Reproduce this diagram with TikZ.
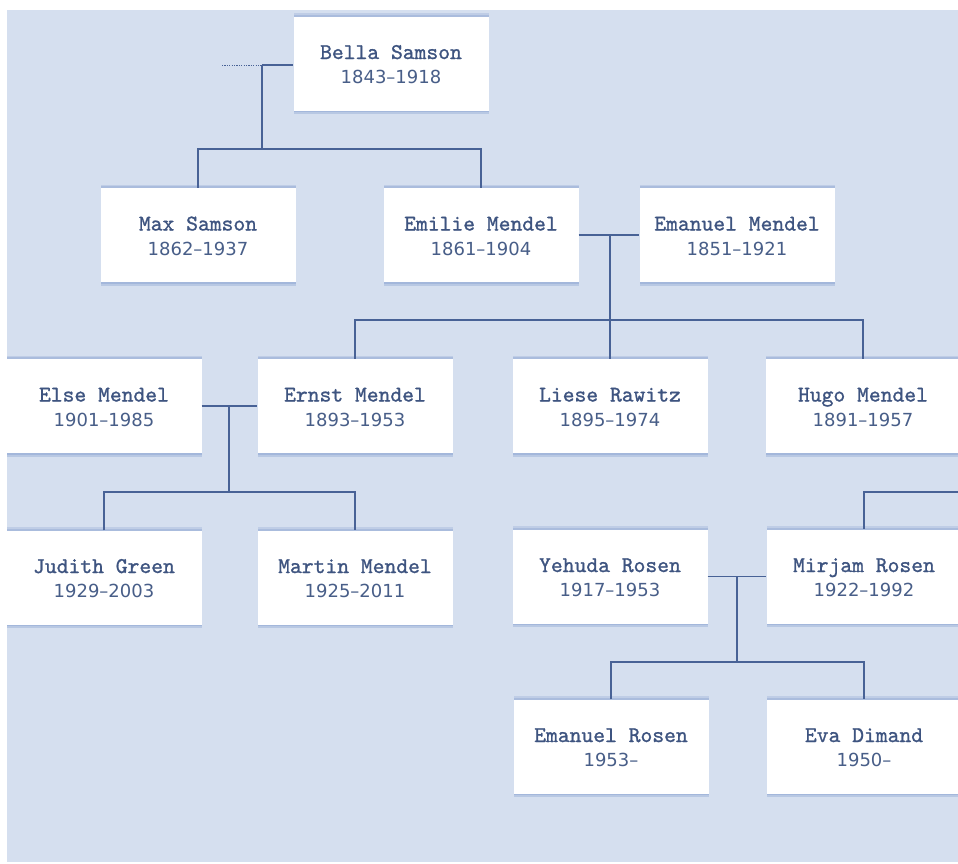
\documentclass[tikz,border=0pt]{standalone}
\usepackage{fontspec}
\usetikzlibrary{shadows,calc}
\newfontfamily\namefont{lmmono10-regular.otf}[FakeBold=1.1]
\newfontfamily\yearfont{DejaVu Sans}
\definecolor{bgc}{RGB}{213,223,239}
\definecolor{linec}{RGB}{72,98,150}
\definecolor{textc}{RGB}{62,84,128}
\definecolor{yearc}{RGB}{72,94,136}
\definecolor{shadowc}{RGB}{150,172,214}
\tikzset{
  pbox/.style={fill=white, draw=none, inner sep=0pt, minimum width=195pt, minimum height=94pt,
    drop shadow={shadow xshift=0pt, shadow yshift=-3.5pt, fill=shadowc, opacity=0.45},
    drop shadow={shadow xshift=0pt, shadow yshift=-1.8pt, fill=shadowc, opacity=0.6},
    drop shadow={shadow xshift=0pt, shadow yshift=3.5pt, fill=shadowc, opacity=0.35},
    drop shadow={shadow xshift=0pt, shadow yshift=1.8pt, fill=shadowc, opacity=0.5}},
  nametext/.style={anchor=base, inner sep=0pt, text=textc, font=\namefont\fontsize{22.5}{24}\selectfont},
  yeartext/.style={anchor=base, inner sep=0pt, text=yearc, font=\yearfont\fontsize{18}{20}\selectfont},
  link/.style={draw=linec, line width=1.2pt},
  dashlink/.style={draw=linec, line width=0.9pt, dash pattern=on 1.2pt off 1.2pt}
}
\newcommand\person[5]{%
  \node[pbox] (#1) at (#2,#3) {};
  \node[nametext] (#1n) at ([yshift=4.5pt]#1.center) {#4};
  \node[yeartext] (#1y) at ([yshift=-20pt]#1.center) {#5};
}
\begin{document}
\begin{tikzpicture}[x=1pt,y=-1pt]
\useasboundingbox (0,0) rectangle (958,863);
\clip (0,0) rectangle (958,863);
\fill[bgc] (7,10) rectangle (970,862);

% people
\person{bella}{391}{63.5}{Bella Samson}{1843\textendash1918}
\person{max}{198}{235}{Max Samson}{1862\textendash1937}
\person{emilie}{481}{235}{Emilie Mendel}{1861\textendash1904}
\person{emanuel}{737}{235}{Emanuel Mendel}{1851\textendash1921}
\person{else}{104}{406}{Else Mendel}{1901\textendash1985}
\person{ernst}{355}{406}{Ernst Mendel}{1893\textendash1953}
\person{liese}{610}{406}{Liese Rawitz}{1895\textendash1974}
\person{hugo}{863}{406}{Hugo Mendel}{1891\textendash1957}
\person{judith}{104}{577.5}{Judith Green}{1929\textendash2003}
\person{martin}{355}{577.5}{Martin Mendel}{1925\textendash2011}
\person{yehuda}{610}{576.5}{Yehuda Rosen}{1917\textendash1953}
\person{mirjam}{864}{576.5}{Mirjam Rosen}{1922\textendash1992}
\person{emrosen}{611}{746.5}{Emanuel Rosen}{1953\textendash}
\person{eva}{864}{746.5}{Eva Dimand}{1950\textendash}

% junction coordinates
\coordinate (d0) at (222,65);
\coordinate (j0) at (262,65);
\coordinate (j0b) at (262,149);
\coordinate (c1) at (610,235);
\coordinate (c1b) at (610,320);
\coordinate (c2) at (229,406);
\coordinate (c2b) at (229,492);
\coordinate (c3) at (737,576.5);
\coordinate (c3b) at (737,662);
\coordinate (h0) at (975,492);

% connectors
\draw[dashlink] (d0) -- (j0);
\draw[link] (j0) -- (bella.west |- j0);
\draw[link] (j0) -- (j0b);
\draw[link] (max.north) -- (max.north |- j0b) -- (emilie.north |- j0b) -- (emilie.north);

\draw[link] (emilie.east) -- (emanuel.west);
\draw[link] (c1) -- (c1b);
\draw[link] (ernst.north) -- (ernst.north |- c1b) -- (hugo.north |- c1b) -- (hugo.north);
\draw[link] (liese.north) -- (liese.north |- c1b);

\draw[link] (else.east) -- (ernst.west);
\draw[link] (c2) -- (c2b);
\draw[link] (judith.north) -- (judith.north |- c2b) -- (martin.north |- c2b) -- (martin.north);

\draw[link] (h0) -- (mirjam.north |- h0) -- (mirjam.north);

\draw[link] (yehuda.east) -- (mirjam.west);
\draw[link] (c3) -- (c3b);
\draw[link] (emrosen.north) -- (emrosen.north |- c3b) -- (eva.north |- c3b) -- (eva.north);
\end{tikzpicture}
\end{document}
